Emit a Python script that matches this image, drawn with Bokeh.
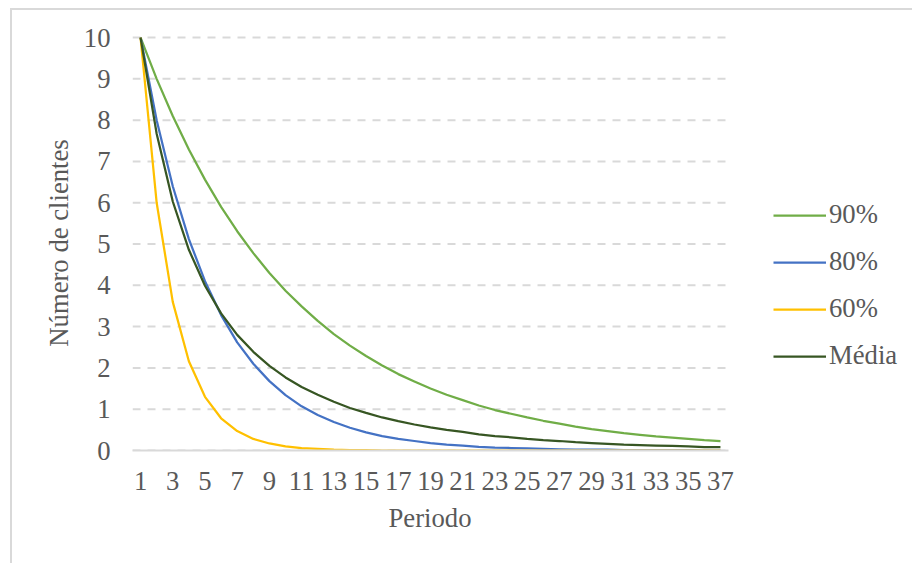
from bokeh.plotting import figure
from bokeh.models import FixedTicker, Legend, LegendItem, ColumnDataSource, Title
from bokeh.embed import file_html
from bokeh.resources import INLINE

periodo = list(range(1, 38))
s90 = [10, 9.0, 8.1, 7.29, 6.56, 5.9, 5.31, 4.78, 4.3, 3.87, 3.49, 3.14, 2.82, 2.54, 2.29,
       2.06, 1.85, 1.67, 1.5, 1.35, 1.22, 1.09, 0.98, 0.89, 0.8, 0.72, 0.65, 0.58, 0.52,
       0.47, 0.42, 0.38, 0.34, 0.31, 0.28, 0.25, 0.23]
s80 = [10, 8.0, 6.4, 5.12, 4.1, 3.28, 2.62, 2.1, 1.68, 1.34, 1.07, 0.86, 0.69, 0.55, 0.44,
       0.35, 0.28, 0.23, 0.18, 0.14, 0.12, 0.09, 0.07, 0.06, 0.05, 0.04, 0.03, 0.02, 0.02,
       0.02, 0.01, 0.01, 0.01, 0.01, 0.01, 0.0, 0.0]
s60 = [10, 6.0, 3.6, 2.16, 1.3, 0.78, 0.47, 0.28, 0.17, 0.1, 0.06, 0.04, 0.02, 0.01, 0.01,
       0.0, 0.0, 0.0, 0.0, 0.0, 0.0, 0.0, 0.0, 0.0, 0.0, 0.0, 0.0, 0.0, 0.0,
       0.0, 0.0, 0.0, 0.0, 0.0, 0.0, 0.0, 0.0]
media = [10, 7.67, 6.03, 4.86, 3.99, 3.32, 2.8, 2.39, 2.05, 1.77, 1.54, 1.35, 1.18, 1.03, 0.91,
         0.8, 0.71, 0.63, 0.56, 0.5, 0.45, 0.39, 0.35, 0.32, 0.28, 0.25, 0.23, 0.2, 0.18,
         0.16, 0.14, 0.13, 0.12, 0.11, 0.1, 0.08, 0.08]
series_names = ["90%", "80%", "60%", "Média"]
series_colors = ["#70AD47", "#4472C4", "#FFC000", "#375623"]
x_ticks = list(range(1, 38, 2))
y_ticks = list(range(0, 11))
x_title = "Periodo"
y_title = "Número de clientes"

FONT = "Liberation Serif"
FS = "26.7px"
TXT = "#595959"
GRID = "#d9d9d9"

x_lo = periodo[0] - 0.5
x_hi = periodo[-1] + 0.5
# the frame is widened to the right so that the legend can sit inside it
x_view_hi = x_lo + (x_hi - x_lo) * 780 / 596

p = figure(width=902, height=555, output_backend="svg", toolbar_location=None,
           x_range=(x_lo, x_view_hi), y_range=(0, 10.05),
           min_border_left=120, min_border_right=2, min_border_top=25, min_border_bottom=115)
p.styles = {"margin-left": "10px", "margin-top": "8px",
            "border-left": "2px solid #d9d9d9", "border-top": "2px solid #d9d9d9"}
p.outline_line_color = None

# dashed horizontal gridlines limited to the data area
p.segment(x0=[x_lo] * len(y_ticks), x1=[x_hi] * len(y_ticks), y0=y_ticks, y1=y_ticks,
          line_color=GRID, line_width=2, line_dash="8 7")

src = ColumnDataSource(dict(x=periodo, s90=s90, s80=s80, s60=s60, media=media))
items = []
for name, col, color in zip(series_names, ["s90", "s80", "s60", "media"], series_colors):
    r = p.line("x", col, source=src, line_color=color, line_width=2.25, line_join="round")
    items.append(LegendItem(label=name, renderers=[r]))

# axes
p.xaxis.ticker = FixedTicker(ticks=x_ticks)
p.yaxis.ticker = FixedTicker(ticks=y_ticks)
p.xaxis.bounds = (x_lo, x_hi)
p.yaxis.axis_label = y_title
for ax in (p.xaxis, p.yaxis):
    ax.major_label_text_font = FONT
    ax.major_label_text_font_size = FS
    ax.major_label_text_color = TXT
    ax.axis_label_text_font = FONT
    ax.axis_label_text_font_size = FS
    ax.axis_label_text_font_style = "normal"
    ax.axis_label_text_color = TXT
    ax.major_tick_line_color = None
    ax.minor_tick_line_color = None
    ax.major_tick_out = 0
    ax.major_tick_in = 0
p.yaxis.axis_line_color = None
p.xaxis.axis_line_color = GRID
p.xaxis.axis_line_width = 2
p.yaxis.major_label_standoff = 22
p.yaxis.axis_label_standoff = 7
p.xaxis.major_label_standoff = 21

# x title centred under the data area (not under the widened frame)
xt = Title(text=x_title, align="left", offset=256, standoff=17, vertical_align="bottom",
           text_font=FONT, text_font_size=FS, text_font_style="normal",
           text_color=TXT)
p.add_layout(xt, "below")

p.xgrid.grid_line_color = None
p.ygrid.grid_line_color = None

legend = Legend(items=items, location=(641, 79), orientation="vertical",
                glyph_width=53, glyph_height=30, label_height=30, spacing=16,
                label_standoff=3, padding=0, margin=0,
                border_line_color=None, background_fill_alpha=0,
                label_text_font=FONT, label_text_font_size=FS,
                label_text_color=TXT)
p.add_layout(legend, "center")

open("out.html", "w").write(file_html(p, INLINE))
